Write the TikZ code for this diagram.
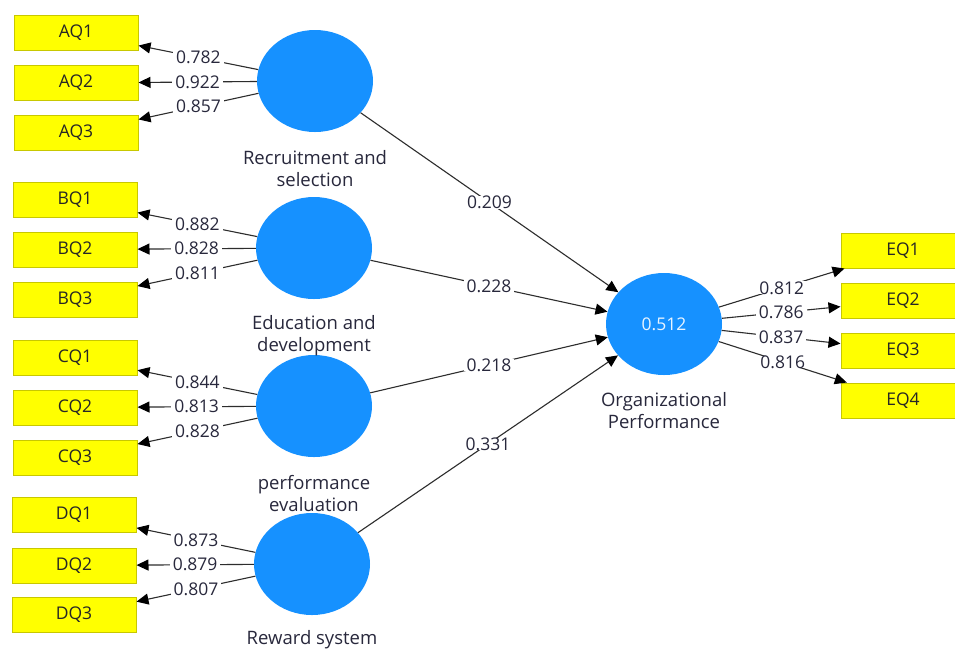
\documentclass[tikz,border=0pt]{standalone}
\usepackage{fontspec}
\setmainfont{Open Sans}
\usetikzlibrary{arrows.meta,shapes.geometric}
\definecolor{lvblue}{RGB}{22,145,255}
\definecolor{mvyellow}{RGB}{255,255,0}
\definecolor{mvborder}{RGB}{200,200,0}
\definecolor{txt}{RGB}{40,40,60}
\definecolor{edge}{RGB}{45,45,45}
\tikzset{
  mv/.style={draw=mvborder, line width=1pt, fill=mvyellow, minimum width=124pt, minimum height=35pt, inner sep=0pt, font=\fontsize{17.5}{20}\selectfont, text=black!85},
  lv/.style={ellipse, fill=lvblue, minimum width=116pt, minimum height=102pt, inner sep=0pt, font=\fontsize{17.5}{20}\selectfont, text=white!90!lvblue},
  lvlabel/.style={font=\fontsize{18.5}{22}\selectfont, text=txt, align=center, inner sep=0pt},
  conn/.style={draw=edge, line width=1.1pt, -{Triangle[length=12pt,width=11pt,color=black]}},
  wt/.style={fill=white, inner xsep=3pt, inner ysep=0pt, font=\fontsize{17.5}{20}\selectfont, text=txt, pos=0.5}
}
\begin{document}
\begin{tikzpicture}[x=1pt,y=-1pt]
\clip (0,0) rectangle (955,649);
\fill[white] (0,0) rectangle (955,649);
% indicator boxes
\node[mv] (AQ1) at (76,33) {AQ1};
\node[mv] (AQ2) at (76,83) {AQ2};
\node[mv] (AQ3) at (76,133) {AQ3};
\node[mv] (BQ1) at (75,200) {BQ1};
\node[mv] (BQ2) at (75,249.5) {BQ2};
\node[mv] (BQ3) at (75,299.5) {BQ3};
\node[mv] (CQ1) at (75,357.5) {CQ1};
\node[mv] (CQ2) at (75,407.5) {CQ2};
\node[mv] (CQ3) at (75,457.5) {CQ3};
\node[mv] (DQ1) at (74,515) {DQ1};
\node[mv] (DQ2) at (74,565.5) {DQ2};
\node[mv] (DQ3) at (74,615) {DQ3};
\node[mv] (EQ1) at (903,250.5) {EQ1};
\node[mv] (EQ2) at (903,300.5) {EQ2};
\node[mv] (EQ3) at (903,350.5) {EQ3};
\node[mv] (EQ4) at (903,400.5) {EQ4};
% latent variables
\node[lv] (A) at (315,81) {};
\node[lv] (B) at (314,248) {};
\node[lv] (C) at (314,406) {};
\node[lv] (D) at (312,564) {};
\node[lv] (O) at (664,324) {0.512};
% labels
\node[lvlabel] (Alab) at (315,169) {Recruitment and\\selection};
\node[lvlabel] (Blab) at (314,336) {Education and\\development};
\node[lvlabel] (Clab) at (314,493.5) {performance\\evaluation};
\node[lvlabel] (Dlab) at (312,640) {Reward system};
\node[lvlabel] (Olab) at (664,411) {Organizational\\Performance};
% outer loadings
\draw[conn] (A) -- node[wt] {0.782} (AQ1);
\draw[conn] (A) -- node[wt] {0.922} (AQ2);
\draw[conn] (A) -- node[wt] {0.857} (AQ3);
\draw[conn] (B) -- node[wt] {0.882} (BQ1);
\draw[conn] (B) -- node[wt] {0.828} (BQ2);
\draw[conn] (B) -- node[wt] {0.811} (BQ3);
\draw[conn] (C) -- node[wt] {0.844} (CQ1);
\draw[conn] (C) -- node[wt] {0.813} (CQ2);
\draw[conn] (C) -- node[wt] {0.828} (CQ3);
\draw[conn] (D) -- node[wt] {0.873} (DQ1);
\draw[conn] (D) -- node[wt] {0.879} (DQ2);
\draw[conn] (D) -- node[wt] {0.807} (DQ3);
\draw[conn] (O) -- node[wt] {0.812} (EQ1);
\draw[conn] (O) -- node[wt] {0.786} (EQ2);
\draw[conn] (O) -- node[wt] {0.837} (EQ3);
\draw[conn] (O) -- node[wt] {0.816} (EQ4);
% path coefficients
\draw[conn] (A) -- node[wt] {0.209} (O);
\draw[conn] (B) -- node[wt] {0.228} (O);
\draw[conn] (C) -- node[wt] {0.218} (O);
\draw[conn] (D) -- node[wt] {0.331} (O);
\end{tikzpicture}
\end{document}
